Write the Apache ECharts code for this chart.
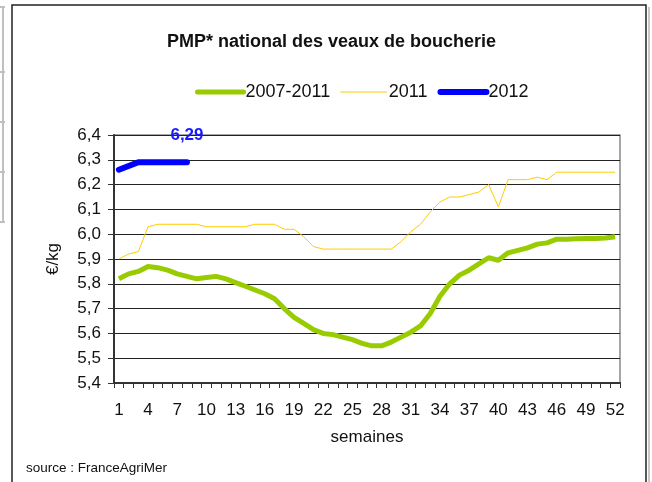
<!DOCTYPE html>
<html>
<head>
<meta charset="utf-8">
<script src="https://cdn.jsdelivr.net/npm/echarts@6/dist/echarts.min.js"></script>
<style>
html,body{margin:0;padding:0;background:#fff;}
#chart{width:652px;height:482px;}
</style>
</head>
<body>
<div id="chart"></div>
<script>
var weeks = ['1','2','3','4','5','6','7','8','9','10','11','12','13','14','15','16','17','18','19','20','21','22','23','24','25','26','27','28','29','30','31','32','33','34','35','36','37','38','39','40','41','42','43','44','45','46','47','48','49','50','51','52'];
var avg20072011 = [5.82,5.84,5.85,5.87,5.865,5.855,5.84,5.83,5.82,5.825,5.83,5.82,5.805,5.79,5.775,5.76,5.74,5.70,5.665,5.64,5.615,5.60,5.595,5.585,5.575,5.56,5.55,5.55,5.565,5.585,5.605,5.63,5.68,5.75,5.80,5.835,5.855,5.88,5.905,5.895,5.925,5.935,5.945,5.96,5.965,5.98,5.98,5.982,5.983,5.983,5.985,5.99];
var y2011 = [5.90,5.92,5.93,6.03,6.04,6.04,6.04,6.04,6.04,6.03,6.03,6.03,6.03,6.03,6.04,6.04,6.04,6.02,6.02,5.99,5.95,5.94,5.94,5.94,5.94,5.94,5.94,5.94,5.94,5.97,6.01,6.04,6.09,6.13,6.15,6.15,6.16,6.17,6.20,6.11,6.22,6.22,6.22,6.23,6.22,6.25,6.25,6.25,6.25,6.25,6.25,6.25];
var y2012 = [6.26,6.275,6.29,6.29,6.29,6.29,6.29,6.29];
var seriesNames = ['2007-2011','2011','2012'];
var lastLabel = '6,29';

var chart = echarts.init(document.getElementById('chart'));
var font = 'Liberation Sans, Arial, sans-serif';
var lastIdx = y2012.length - 1;
var colors = ['#99cc00','#ffcc00','#0000ff'];
var widths = [5, 1, 6];
chart.setOption({
  animation:false,
  backgroundColor:'#fff',
  title:{text:'PMP* national des veaux de boucherie', left:162, top:28,
    textStyle:{fontFamily:font, fontSize:18, fontWeight:'bold', color:'#111'}},
  legend:{
    data:seriesNames.map(function(n,i){
      return {name:n, itemStyle:{opacity:0}, lineStyle:{width:widths[i], color:colors[i], cap:'round'}};
    }),
    left:190, top:78, itemWidth:46, itemHeight:12, itemGap:10,
    itemStyle:{opacity:0},
    textStyle:{fontFamily:font, fontSize:18, color:'#111', padding:[0,0,0,-3]}},
  grid:{left:114, right:32, top:135, bottom:99, show:true, borderColor:'#8a8a8a', borderWidth:1.5},
  xAxis:{type:'category', data:weeks, boundaryGap:true,
    name:'semaines', nameLocation:'middle', nameGap:46,
    nameTextStyle:{fontFamily:font, fontSize:17, color:'#111'},
    axisLine:{lineStyle:{color:'#333', width:2}},
    axisTick:{show:true, interval:0, length:5, lineStyle:{color:'#333'}},
    axisLabel:{interval:2, fontFamily:font, fontSize:17, color:'#111', margin:19}},
  yAxis:{type:'value', min:5.4, max:6.4, interval:0.1,
    name:'€/kg', nameLocation:'middle', nameGap:52, nameRotate:90,
    nameTextStyle:{fontFamily:font, fontSize:17, color:'#111'},
    axisLine:{show:true, lineStyle:{color:'#333', width:2}},
    axisTick:{show:true, length:6, lineStyle:{color:'#333'}},
    splitLine:{lineStyle:{color:'#222', width:1}},
    axisLabel:{fontFamily:font, fontSize:17, color:'#111', margin:13,
      formatter:function(v){return v.toFixed(1).replace('.',',');}}},
  series:[
    {name:seriesNames[0], type:'line', data:avg20072011, symbol:'none', z:3,
      lineStyle:{color:colors[0], width:widths[0]}, itemStyle:{color:colors[0]}},
    {name:seriesNames[1], type:'line', data:y2011, symbol:'none', z:2,
      lineStyle:{color:colors[1], width:widths[1]}, itemStyle:{color:colors[1]}},
    {name:seriesNames[2], type:'line', data:y2012, symbol:'none', z:4,
      lineStyle:{color:colors[2], width:widths[2], cap:'round'}, itemStyle:{color:colors[2]},
      markPoint:{symbol:'circle', symbolSize:0.1, silent:true,
        data:[{coord:[lastIdx, y2012[lastIdx]], value:lastLabel}],
        label:{show:true, position:'top', distance:18, formatter:lastLabel,
          color:'#1a1aff', fontWeight:'bold', fontSize:17, fontFamily:font}}}
  ],
  graphic:[
    {type:'rect', shape:{x:12, y:5, width:634, height:500}, style:{fill:'none', stroke:'#222', lineWidth:1.5}, silent:true},
    {type:'line', shape:{x1:649, y1:7, x2:649, y2:482}, style:{stroke:'#c8c8c8', lineWidth:2}, silent:true},
    {type:'line', shape:{x1:3, y1:7, x2:3, y2:222}, style:{stroke:'#c0c0c0', lineWidth:2}, silent:true},
    {type:'line', shape:{x1:0, y1:7, x2:5, y2:7}, style:{stroke:'#c0c0c0', lineWidth:2}, silent:true},
    {type:'line', shape:{x1:0, y1:72, x2:5, y2:72}, style:{stroke:'#c0c0c0', lineWidth:2}, silent:true},
    {type:'line', shape:{x1:0, y1:122, x2:5, y2:122}, style:{stroke:'#c0c0c0', lineWidth:2}, silent:true},
    {type:'line', shape:{x1:0, y1:172, x2:5, y2:172}, style:{stroke:'#c0c0c0', lineWidth:2}, silent:true},
    {type:'line', shape:{x1:0, y1:222, x2:5, y2:222}, style:{stroke:'#c0c0c0', lineWidth:2}, silent:true},
    {type:'text', left:26, top:461, style:{text:'source : FranceAgriMer', font:'13.5px Liberation Sans, Arial, sans-serif', fill:'#111'}, silent:true}
  ]
});
</script>
</body>
</html>
